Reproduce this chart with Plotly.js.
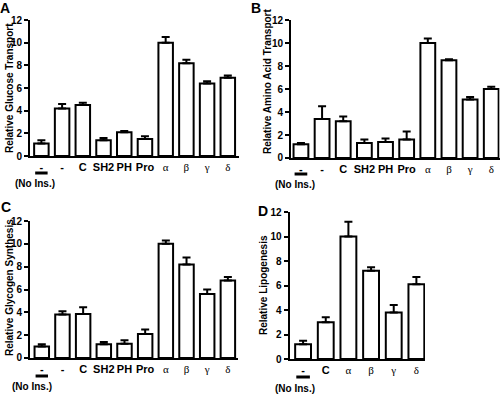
<!DOCTYPE html>
<html>
<head>
<meta charset="utf-8">
<script src="https://cdn.plot.ly/plotly-3.0.1.min.js"></script>
<style>html,body{margin:0;padding:0;background:#fff;}#chart{width:500px;height:394px;}</style>
</head>
<body>
<div id="chart"></div>
<script>
// ---- data ----
const labelsABC = ["-", "-", "C", "SH2", "PH", "Pro", "α", "β", "γ", "δ"];
const labelsD = ["-", "C", "α", "β", "γ", "δ"];

const glucoseVals = [1.1, 4.2, 4.5, 1.4, 2.1, 1.5, 10.0, 8.2, 6.4, 6.9];
const glucoseErr  = [0.3, 0.4, 0.2, 0.2, 0.1, 0.25, 0.5, 0.3, 0.2, 0.2];

const aminoVals = [1.2, 3.4, 3.2, 1.3, 1.4, 1.6, 10.0, 8.5, 5.1, 6.0];
const aminoErr  = [0.1, 1.1, 0.4, 0.3, 0.3, 0.7, 0.4, 0.1, 0.2, 0.2];

const glycogenVals = [1.0, 3.8, 3.85, 1.2, 1.25, 2.1, 10.0, 8.2, 5.6, 6.8];
const glycogenErr  = [0.2, 0.3, 0.6, 0.2, 0.3, 0.4, 0.3, 0.6, 0.4, 0.3];

const lipoVals = [1.2, 3.0, 10.0, 7.2, 3.8, 6.1];
const lipoErr  = [0.3, 0.4, 1.2, 0.3, 0.6, 0.6];

const yTicks = [0, 2, 4, 6, 8, 10, 12];

// ---- helpers ----
const SANS = "Liberation Sans, Arial, sans-serif";
const SERIF = "Liberation Serif, Times New Roman, serif";
const greek = new Set(["α", "β", "γ", "δ"]);
function tickText(labels) {
  return labels.map(l => greek.has(l)
    ? '<span style="font-family:' + SERIF + ';font-weight:normal">' + l + '</span>'
    : '<b>' + l + '</b>');
}
function idx(arr) { return arr.map((_, i) => i); }

function barTrace(vals, errs, xa, ya) {
  return {
    type: "bar",
    x: idx(vals),
    y: vals,
    xaxis: xa, yaxis: ya,
    marker: { color: "#ffffff", line: { color: "#000000", width: 2 } },
    error_y: { type: "data", symmetric: false, array: errs, arrayminus: errs.map(() => 0),
               color: "#000000", thickness: 2, width: 4 },
    hoverinfo: "none",
    showlegend: false
  };
}

const data = [
  barTrace(glucoseVals, glucoseErr, "x", "y"),
  barTrace(aminoVals, aminoErr, "x2", "y2"),
  barTrace(glycogenVals, glycogenErr, "x3", "y3"),
  barTrace(lipoVals, lipoErr, "x4", "y4")
];

function xAxis(domain, range, labels, anchor) {
  return {
    domain: domain, range: range, anchor: anchor,
    tickvals: idx(labels), ticktext: tickText(labels),
    showline: true, linecolor: "#000", linewidth: 2,
    ticks: "", showgrid: false, zeroline: false,
    tickfont: { family: SANS, size: 11, color: "#000" },
    fixedrange: true
  };
}
function yAxis(domain, anchor) {
  return {
    domain: domain, range: [0, 12], anchor: anchor,
    tickvals: yTicks, ticktext: yTicks.map(v => "<b>" + v + "</b>"),
    showline: true, linecolor: "#000", linewidth: 2,
    ticks: "outside", ticklen: 4, tickwidth: 2, tickcolor: "#000",
    showgrid: false, zeroline: false,
    tickfont: { family: SANS, size: 10, color: "#000" },
    fixedrange: true
  };
}

function yTitle(text, x, y) {
  return { text: "<b>" + text + "</b>", xref: "paper", yref: "paper", x: x / 500, y: 1 - y / 394,
           textangle: -90, showarrow: false, xanchor: "center", yanchor: "middle",
           font: { family: SANS, size: 10, color: "#000" } };
}
function letter(text, x, y) {
  return { text: "<b>" + text + "</b>", xref: "paper", yref: "paper", x: x / 500, y: 1 - y / 394,
           showarrow: false, xanchor: "center", yanchor: "middle",
           font: { family: SANS, size: 14, color: "#000" } };
}
function noIns(x, y) {
  return { text: "<b>(No Ins.)</b>", xref: "paper", yref: "paper", x: x / 500, y: 1 - y / 394,
           showarrow: false, xanchor: "center", yanchor: "middle",
           font: { family: SANS, size: 10, color: "#000" } };
}
function underline(xref, y) {
  return { type: "line", xref: xref, yref: "paper", x0: -0.3, x1: 0.3,
           y0: 1 - y / 394, y1: 1 - y / 394, line: { color: "#000", width: 3 } };
}

const layout = {
  width: 500, height: 394,
  margin: { l: 0, r: 0, t: 0, b: 0 },
  paper_bgcolor: "#fff", plot_bgcolor: "#fff",
  bargap: 0.3,
  xaxis:  xAxis([0.06, 0.478], [-0.55, 9.54], labelsABC, "y"),
  yaxis:  yAxis([0.604, 0.949], "x"),
  xaxis2: xAxis([0.582, 0.999], [-0.47, 9.39], labelsABC, "y2"),
  yaxis2: yAxis([0.599, 0.949], "x2"),
  xaxis3: xAxis([0.06, 0.476], [-0.57, 9.49], labelsABC, "y3"),
  yaxis3: yAxis([0.0914, 0.439], "x3"),
  xaxis4: xAxis([0.579, 0.85], [-0.6, 5.38], labelsD, "y4"),
  yaxis4: yAxis([0.0888, 0.4619], "x4"),
  annotations: [
    letter("A", 5, 8), letter("B", 256, 8), letter("C", 6, 207), letter("D", 263, 211),
    yTitle("Relative Glucose Transport", 9, 88),
    yTitle("Relative Amino Acid Transport", 267, 81),
    yTitle("Relative Glycogen Synthesis", 9, 288),
    yTitle("Relative Lipogenesis", 263, 285),
    noIns(35, 183), noIns(295, 184), noIns(32, 386), noIns(295, 388)
  ],
  shapes: [
    underline("x", 173), underline("x2", 174), underline("x3", 376), underline("x4", 377)
  ]
};

Plotly.newPlot("chart", data, layout, { staticPlot: true, displayModeBar: false });
</script>
</body>
</html>
